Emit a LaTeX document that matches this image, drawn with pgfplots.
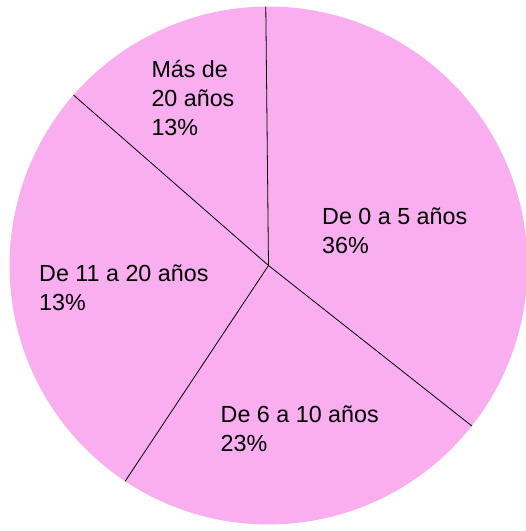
\documentclass[border=0pt]{standalone}
\usepackage{pgfplots}
\pgfplotsset{compat=1.18}
\usepackage{fontspec}
\setmainfont{Liberation Sans}
\definecolor{piepink}{RGB}{249,174,240}
\begin{document}
\begin{tikzpicture}
% slice sizes (percent of the circle), clockwise from the top
\def\pA{35.8}% De 0 a 5 anos
\def\pB{23.7}% De 6 a 10 anos
\def\pC{27.1}% De 11 a 20 anos
\def\pD{13.4}% Mas de 20 anos
\def\cx{268.5}\def\cy{265.5}\def\r{259}
\pgfmathsetmacro\aA{90.6}
\pgfmathsetmacro\aB{\aA-3.6*\pA}
\pgfmathsetmacro\aC{\aB-3.6*\pB}
\pgfmathsetmacro\aD{\aC-3.6*\pC}
\pgfmathsetmacro\aE{\aD-3.6*\pD}
\begin{axis}[
  width=526pt, height=531pt, scale only axis,
  xmin=0, xmax=526, ymin=0, ymax=531,
  hide axis, clip=true,
]
\addplot[fill=piepink, draw=none, domain=\aB:\aA, samples=90, variable=\t] ({\cx+\r*cos(\t)},{\cy+\r*sin(\t)}) -- (axis cs:\cx,\cy) -- cycle;
\addplot[fill=piepink, draw=none, domain=\aC:\aB, samples=90, variable=\t] ({\cx+\r*cos(\t)},{\cy+\r*sin(\t)}) -- (axis cs:\cx,\cy) -- cycle;
\addplot[fill=piepink, draw=none, domain=\aD:\aC, samples=90, variable=\t] ({\cx+\r*cos(\t)},{\cy+\r*sin(\t)}) -- (axis cs:\cx,\cy) -- cycle;
\addplot[fill=piepink, draw=none, domain=\aE:\aD, samples=90, variable=\t] ({\cx+\r*cos(\t)},{\cy+\r*sin(\t)}) -- (axis cs:\cx,\cy) -- cycle;
% dividers
\addplot[black, line width=0.8pt, domain=0:\r, samples=2, variable=\s] ({\cx+\s*cos(\aA)},{\cy+\s*sin(\aA)});
\addplot[black, line width=0.8pt, domain=0:\r, samples=2, variable=\s] ({\cx+\s*cos(\aB)},{\cy+\s*sin(\aB)});
\addplot[black, line width=0.8pt, domain=0:\r, samples=2, variable=\s] ({\cx+\s*cos(\aC)},{\cy+\s*sin(\aC)});
\addplot[black, line width=0.8pt, domain=0:\r, samples=2, variable=\s] ({\cx+\s*cos(\aD)},{\cy+\s*sin(\aD)});
% labels
\tikzset{lbl/.style={anchor=base west, inner sep=0pt, font=\fontsize{23.3}{28}\selectfont}}
\node[lbl] at (axis cs:151.3,453.5) {Más de};
\node[lbl] at (axis cs:151.3,424.3) {20 años};
\node[lbl] at (axis cs:151.3,395) {13\%};
\node[lbl] at (axis cs:322,306.5) {De 0 a 5 años};
\node[lbl] at (axis cs:322,277.3) {36\%};
\node[lbl] at (axis cs:39,249) {De 11 a 20 años};
\node[lbl] at (axis cs:39,220.3) {13\%};
\node[lbl] at (axis cs:220.5,108) {De 6 a 10 años};
\node[lbl] at (axis cs:220.5,79.3) {23\%};
\path (axis cs:0,0) rectangle (axis cs:526,531);
\end{axis}
\end{tikzpicture}
\end{document}
